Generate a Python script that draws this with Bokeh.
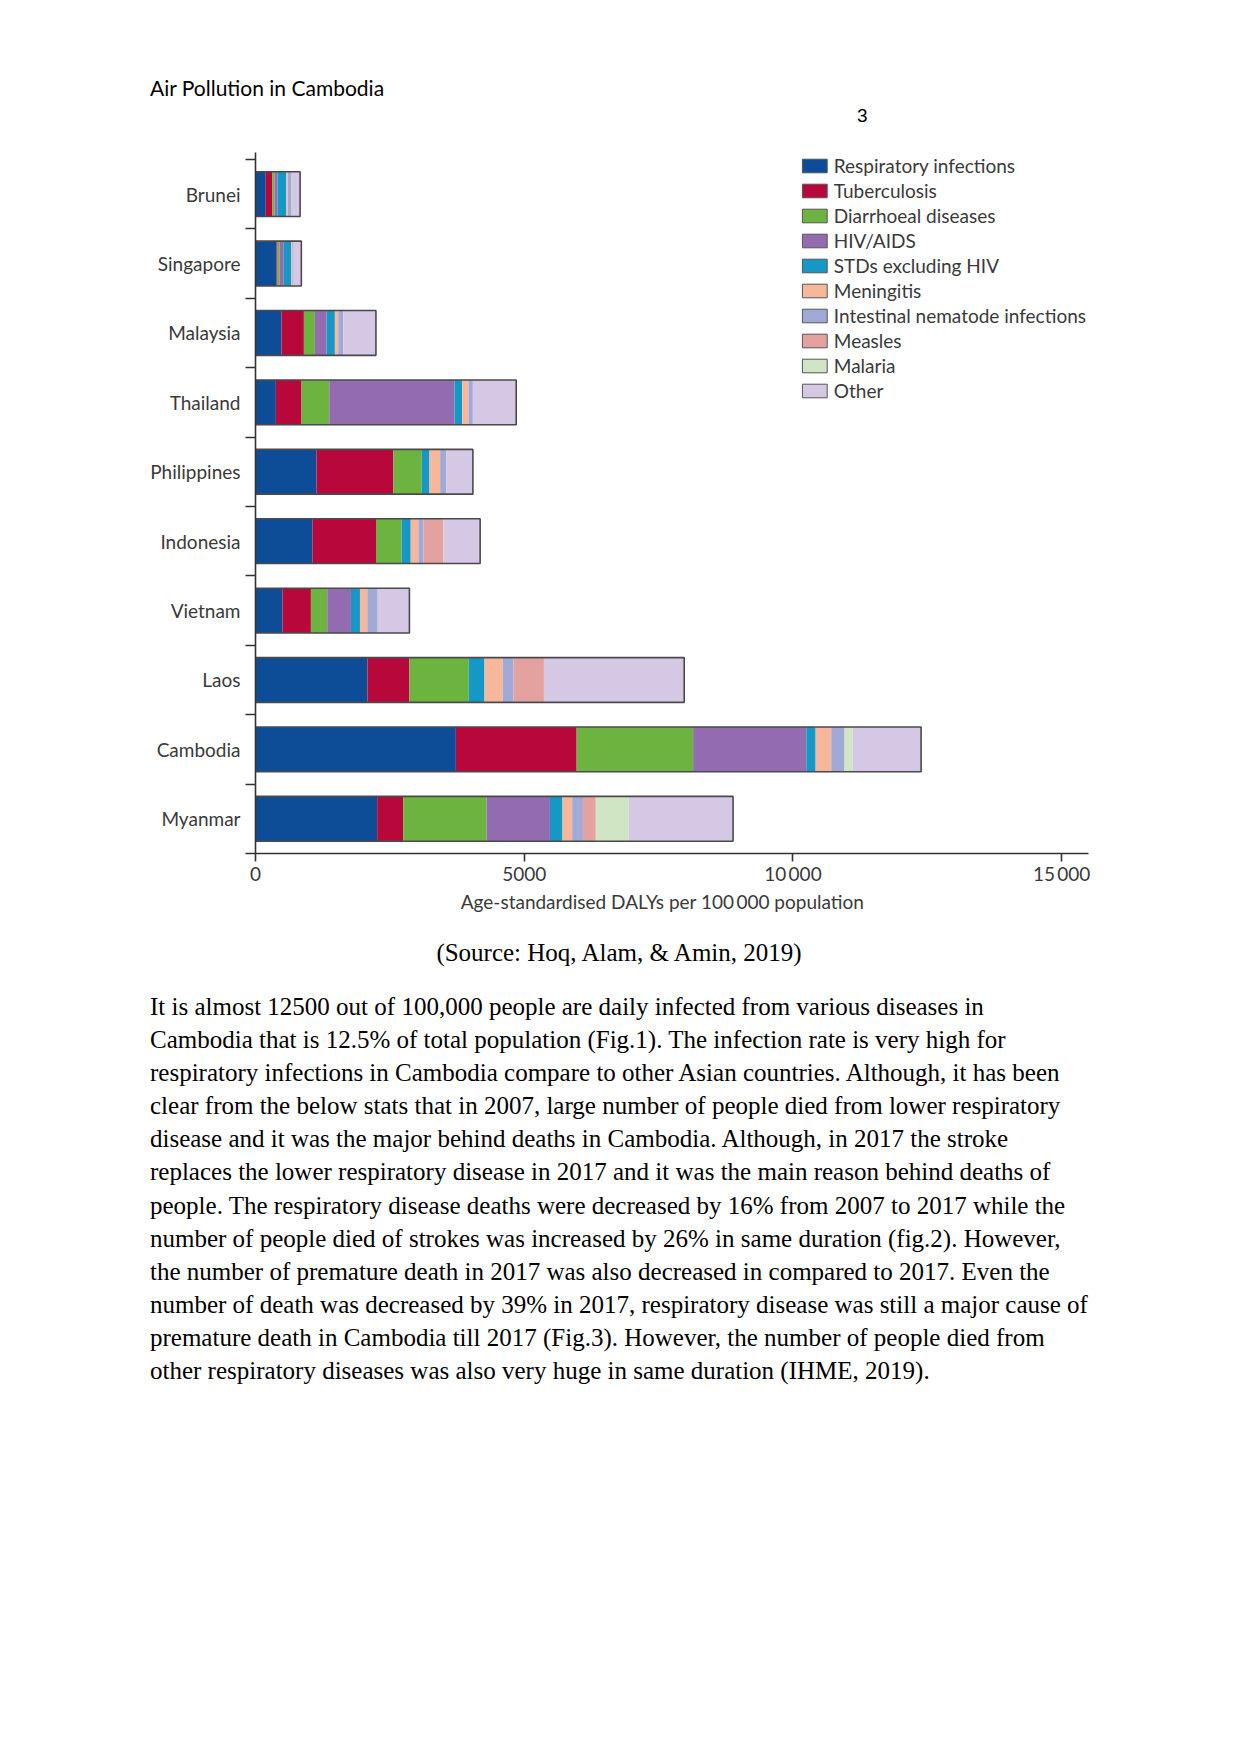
from bokeh.plotting import figure
from bokeh.models import Range1d, FixedTicker, ColumnDataSource, Legend, LegendItem, Div
from bokeh.layouts import column
from bokeh.embed import file_html
from bokeh.resources import INLINE

# ---------------- data ----------------
countries = ["Brunei", "Singapore", "Malaysia", "Thailand", "Philippines",
             "Indonesia", "Vietnam", "Laos", "Cambodia", "Myanmar"]

series_names = ["Respiratory infections", "Tuberculosis", "Diarrhoeal diseases",
                "HIV/AIDS", "STDs excluding HIV", "Meningitis",
                "Intestinal nematode infections", "Measles", "Malaria", "Other"]

resp     = [190, 390, 484, 379, 1137, 1062, 503, 2084, 3728, 2264]
tb       = [120, 20, 416, 478, 1429, 1180, 528, 779, 2248, 486]
diarr    = [45, 40, 205, 516, 528, 478, 304, 1105, 2167, 1551]
hiv      = [55, 75, 217, 2329, 0, 0, 441, 0, 2106, 1178]
std      = [160, 140, 155, 143, 143, 168, 168, 293, 173, 233]
mening   = [30, 20, 62, 118, 199, 143, 137, 340, 291, 180]
nematode = [60, 25, 93, 81, 112, 93, 193, 200, 247, 200]
measles  = [0, 0, 0, 0, 0, 373, 0, 566, 0, 240]
malaria  = [0, 0, 0, 0, 0, 0, 0, 0, 155, 612]
other    = [170, 143, 609, 807, 497, 683, 590, 2610, 1270, 1942]

x_ticks = [0, 5000, 10000, 15000]
x_tick_labels = ["0", "5000", "10\u2009000", "15\u2009000"]

colors = ["#0d4c97", "#b8073a", "#6db33f", "#926bb0", "#1598c6",
          "#f7b79b", "#a1a9d6", "#e3a29f", "#cfe5c3", "#d5c8e4"]

header_title = "Air Pollution in Cambodia"
page_number = "3"
caption = "(Source: Hoq, Alam, &amp; Amin, 2019)"
body_lines = [
    "It is almost 12500 out of 100,000 people are daily infected from various diseases in",
    "Cambodia that is 12.5% of total population (Fig.1). The infection rate is very high for",
    "respiratory infections in Cambodia compare to other Asian countries. Although, it has been",
    "clear from the below stats that in 2007, large number of people died from lower respiratory",
    "disease and it was the major behind deaths in Cambodia. Although, in 2017 the stroke",
    "replaces the lower respiratory disease in 2017 and it was the main reason behind deaths of",
    "people. The respiratory disease deaths were decreased by 16% from 2007 to 2017 while the",
    "number of people died of strokes was increased by 26% in same duration (fig.2). However,",
    "the number of premature death in 2017 was also decreased in compared to 2017. Even the",
    "number of death was decreased by 39% in 2017, respiratory disease was still a major cause of",
    "premature death in Cambodia till 2017 (Fig.3). However, the number of people died from",
    "other respiratory diseases was also very huge in same duration (IHME, 2019).",
]

# ---------------- chart ----------------
keys = ["resp", "tb", "diarr", "hiv", "std", "mening", "nematode", "measles", "malaria", "other"]
all_vals = [resp, tb, diarr, hiv, std, mening, nematode, measles, malaria, other]
y_pos = [len(countries) - 0.5 - i for i in range(len(countries))]

data = dict(y=y_pos, country=countries)
for k, v in zip(keys, all_vals):
    data[k] = v
data["total"] = [sum(t) for t in zip(*all_vals)]
source = ColumnDataSource(data)

AX_FONT = "Lato"
AX_COLOR = "#3a3a3a"

p = figure(width=1108, height=777, x_range=Range1d(0, 15500), y_range=Range1d(0, 10.1),
           output_backend="svg", toolbar_location=None,
           min_border_left=255, min_border_right=20, min_border_top=4, min_border_bottom=72)
p.outline_line_color = None
p.grid.visible = False
p.background_fill_color = "white"
p.border_fill_color = "white"

BAR_H = 0.645
p.hbar_stack(keys, y="y", height=BAR_H, fill_color=colors, line_color=None, source=source)
p.hbar(y="y", left=0, right="total", height=BAR_H, fill_color=None,
       line_color="#4a4a4a", line_width=1.6, source=source)

# legend swatches (off-range single bars, used only for the legend keys)
items = []
for name, c in zip(series_names, colors):
    r = p.hbar(y=[-5], right=[100], height=BAR_H, fill_color=c, line_color="#555555", line_width=1)
    items.append(LegendItem(label=name, renderers=[r]))
legend = Legend(items=items, location="top_right")
legend.border_line_color = None
legend.background_fill_alpha = 0
legend.padding = 0
legend.margin = 2
legend.spacing = 2
legend.glyph_width = 31
legend.glyph_height = 17
legend.label_height = 14
legend.label_standoff = 4
legend.label_text_font = AX_FONT
legend.label_text_font_size = "19px"
legend.label_text_color = AX_COLOR
legend.label_text_baseline = "middle"
p.add_layout(legend)

xa = p.xaxis[0]
xa.ticker = FixedTicker(ticks=x_ticks)
xa.major_label_overrides = {t: l for t, l in zip(x_ticks, x_tick_labels)}
xa.major_tick_out = 8
xa.major_tick_in = 0
xa.minor_tick_out = 0
xa.minor_tick_in = 0
xa.axis_line_color = "#333333"
xa.axis_line_width = 1.6
xa.major_tick_line_color = "#333333"
xa.major_tick_line_width = 1.6
xa.major_label_text_font = AX_FONT
xa.major_label_text_font_size = "19px"
xa.major_label_text_color = AX_COLOR
xa.major_label_standoff = 0
xa.axis_label = "Age-standardised DALYs per 100\u2009000 population\u2002\u2002"
xa.axis_label_text_font = AX_FONT
xa.axis_label_text_font_size = "19px"
xa.axis_label_text_font_style = "normal"
xa.axis_label_text_color = AX_COLOR
xa.axis_label_standoff = 2

ya = p.yaxis[0]
ya.ticker = FixedTicker(ticks=y_pos, minor_ticks=list(range(len(countries) + 1)))
ya.major_label_overrides = {y: c for y, c in zip(y_pos, countries)}
ya.major_tick_out = 0
ya.major_tick_in = 0
ya.minor_tick_out = 10
ya.minor_tick_in = 0
ya.axis_line_color = "#333333"
ya.axis_line_width = 1.6
ya.minor_tick_line_color = "#333333"
ya.minor_tick_line_width = 1.6
ya.major_label_text_font = AX_FONT
ya.major_label_text_font_size = "19px"
ya.major_label_text_color = AX_COLOR
ya.major_label_standoff = 5

# ---------------- page texts ----------------
header = Div(
    text=('<div style="position:relative;width:1225px;height:148px;">'
          f'<span style="position:absolute;left:150px;top:76px;font-family:Lato;font-size:21px;'
          f'line-height:24px;color:#000;white-space:nowrap;">{header_title}</span>'
          f'<span style="position:absolute;left:857px;top:104px;font-family:\'Liberation Sans\';'
          f'font-size:19px;line-height:24px;color:#000;">{page_number}</span></div>'),
    width=1225, height=148, margin=0)

body_html = ['<div style="position:relative;width:1225px;height:520px;'
             'font-family:\'Liberation Serif\';color:#000;">']
body_html.append(f'<div style="position:absolute;left:0;width:1238px;top:11px;text-align:center;'
                 f'font-size:25px;line-height:33px;white-space:nowrap;">{caption}</div>')
for i, line in enumerate(body_lines):
    top = 64.5 + i * 33.17
    body_html.append(f'<div style="position:absolute;left:150px;top:{top:.1f}px;font-size:25px;'
                     f'line-height:33px;white-space:nowrap;">{line}</div>')
body_html.append('</div>')
body = Div(text="".join(body_html), width=1225, height=520, margin=0)

layout = column(header, p, body, spacing=0)
open("out.html", "w").write(file_html(layout, INLINE))
